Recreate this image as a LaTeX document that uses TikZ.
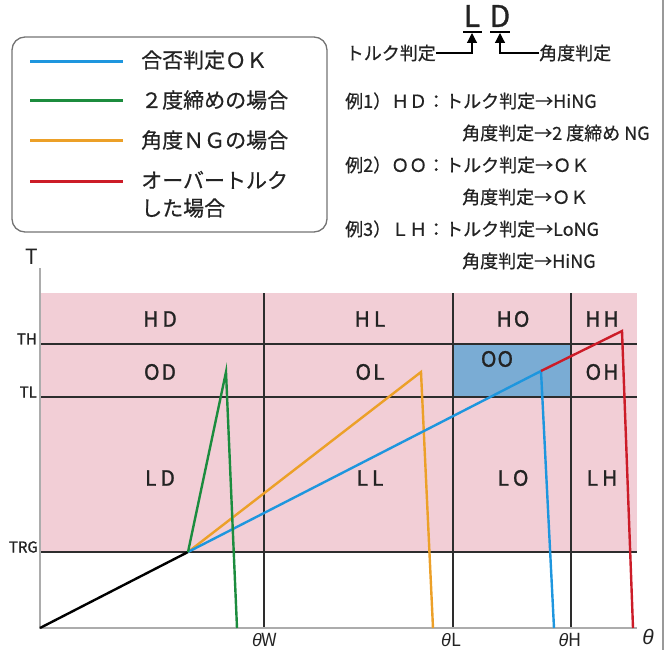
\documentclass[tikz,border=0pt]{standalone}
\usepackage{fontspec}
\setmainfont{Noto Sans CJK JP}
\newfontfamily\thetafont{Liberation Sans}
\usetikzlibrary{arrows.meta}
\definecolor{pinkbg}{RGB}{242,206,214}
\definecolor{okbox}{RGB}{122,172,212}
\definecolor{cblue}{RGB}{30,150,222}
\definecolor{cgreen}{RGB}{28,140,62}
\definecolor{corange}{RGB}{236,160,40}
\definecolor{cred}{RGB}{204,28,40}
\definecolor{axisgray}{RGB}{172,172,172}
\definecolor{gridgray}{RGB}{45,45,45}
\definecolor{txt}{RGB}{35,35,35}
\begin{document}
\begin{tikzpicture}[x=1pt,y=-1pt,
  gridline/.style={draw=gridgray, line width=1.2pt},
  axisline/.style={draw=axisgray, line width=1.6pt},
  curve/.style={line width=2.4pt, line join=miter},
  legline/.style={line width=3pt},
  legtext/.style={anchor=west, inner sep=0pt, text=txt, font=\fontsize{21}{24}\selectfont\addfontfeature{FakeBold=0.6}},
  extext/.style={anchor=west, inner sep=0pt, text=txt, font=\fontsize{18}{20}\selectfont\addfontfeature{FakeBold=0.6}},
  celllab/.style={inner sep=0pt, text=txt, font=\fontsize{21}{21}\selectfont\addfontfeature{FakeBold=1.2}},
  axlab/.style={inner sep=0pt, text=txt, font=\fontsize{15}{15}\selectfont\addfontfeature{FakeBold=1.2}},
  thlab/.style={inner sep=0pt, text=txt, font=\fontsize{18}{18}\selectfont}
]
\useasboundingbox (0,0) rectangle (672,650);
% right border
\draw[draw=gray!80, line width=1.2pt] (663,0) -- (663,650);

% ---------- legend ----------
\draw[draw=gray!90!black, line width=1.3pt, rounded corners=13pt] (12,37) rectangle (327,232);
\draw[legline, cblue]   (30,62)  -- (123,62);
\draw[legline, cgreen]  (30,101) -- (123,101);
\draw[legline, corange] (30,141) -- (123,141);
\draw[legline, cred]    (30,181) -- (123,181);
\node[legtext] (lg1) at (141,60)  {合否判定ＯＫ};
\node[legtext] (lg2) at (141,100) {２度締めの場合};
\node[legtext] (lg3) at (141,140) {角度ＮＧの場合};
\node[legtext] (lg4) at (141,180) {オーバートルク};
\node[legtext] (lg5) at (141,208) {した場合};

% ---------- L D key ----------
\node[inner sep=0pt, text=txt, font=\fontsize{30}{30}\selectfont\addfontfeature{FakeBold=1}] (kL) at (472,16) {L};
\node[inner sep=0pt, text=txt, font=\fontsize{30}{30}\selectfont\addfontfeature{FakeBold=1}] (kD) at (500,16) {D};
\draw[line width=1.3pt] (463,32) -- (482,32);
\draw[line width=1.3pt] (490,32) -- (510,32);
\node[extext, anchor=east] (ktq) at (436,53) {トルク判定};
\node[extext] (kang) at (539,53) {角度判定};
\coordinate (aL) at (472,33);
\coordinate (aD) at (500,33);
\draw[line width=1.2pt, -{Triangle[width=10pt,length=10pt]}] (ktq.east) -- (472,53) -- (aL);
\draw[line width=1.2pt, -{Triangle[width=10pt,length=10pt]}] (kang.west) -- (500,53) -- (aD);

% ---------- examples ----------
\node[extext] (e1) at (345,101) {例1）ＨＤ：トルク判定→HiNG};
\node[extext] (e2) at (462,133) {角度判定→2 度締め NG};
\node[extext] (e3) at (345,165) {例2）ＯＯ：トルク判定→ＯＫ};
\node[extext] (e4) at (462,197) {角度判定→ＯＫ};
\node[extext] (e5) at (345,229) {例3）ＬＨ：トルク判定→LoNG};
\node[extext] (e6) at (462,261) {角度判定→HiNG};

% ---------- chart ----------
\fill[pinkbg] (40,293) rectangle (637,552);
\fill[okbox] (453,344) rectangle (571,397);
% horizontal lines
\draw[gridline] (40,344) -- (637,344);
\draw[gridline] (40,397) -- (637,397);
\draw[gridline] (40,552) -- (637,552);
% vertical lines
\draw[gridline] (264,293) -- (264,628);
\draw[gridline] (453,293) -- (453,628);
\draw[gridline] (571,293) -- (571,628);
% axes
\draw[axisline] (40,268) -- (40,628) -- (637,628);

% axis labels
\node[inner sep=0pt, text=txt, font=\fontsize{21}{21}\selectfont] (lT) at (32,257) {T};
\node[axlab, anchor=east] (lTH) at (37,339) {TH};
\node[axlab, anchor=east] (lTL) at (37,392) {TL};
\node[axlab, anchor=east] (lTRG) at (38,547) {TRG};
\node[thlab] (lW) at (265,640) {{\thetafont\itshape θ}W};
\node[thlab] (lL) at (451,640) {{\thetafont\itshape θ}L};
\node[thlab] (lH) at (570,640) {{\thetafont\itshape θ}H};
\node[inner sep=0pt, text=txt, font=\fontsize{21}{21}\selectfont] (lth) at (648,637) {{\thetafont\itshape θ}};

% cell labels
\node[celllab] (cHD) at (160,319) {H\hspace{4pt}D};
\node[celllab] (cOD) at (160,372) {O\hspace{2pt}D};
\node[celllab] (cLD) at (160,478) {L\hspace{4pt}D};
\node[celllab] (cHL) at (370,319) {H\hspace{4pt}L};
\node[celllab] (cOL) at (370,372) {O\hspace{2pt}L};
\node[celllab] (cLL) at (370,478) {L\hspace{4pt}L};
\node[celllab] (cHO) at (513,319) {H\hspace{2pt}O};
\node[celllab] (cOO) at (497,359) {O\hspace{1pt}O};
\node[celllab] (cLO) at (513,478) {L\hspace{4pt}O};
\node[celllab] (cHH) at (602,319) {H\hspace{3pt}H};
\node[celllab] (cOH) at (602,372) {O\hspace{2pt}H};
\node[celllab] (cLH) at (602,478) {L\hspace{4pt}H};

% curve points
\coordinate (O) at (40,628);
\coordinate (K) at (188,552);
\coordinate (gP) at (226,372);
\coordinate (gE) at (237,628);
\coordinate (oP) at (421,372);
\coordinate (oE) at (433,628);
\coordinate (bP) at (541,371);
\coordinate (bE) at (554,628);
\coordinate (rP) at (622,331);
\coordinate (rE) at (633,628);

\draw[curve, black] (O) -- (K);
\draw[curve, corange] (K) -- (oP) -- (oE);
\draw[curve, cblue] (K) -- (bP) -- (bE);
\draw[curve, cred] (bP) -- (rP) -- (rE);
\draw[curve, cgreen] (K) -- (gP) -- (gE);
\end{tikzpicture}
\end{document}
